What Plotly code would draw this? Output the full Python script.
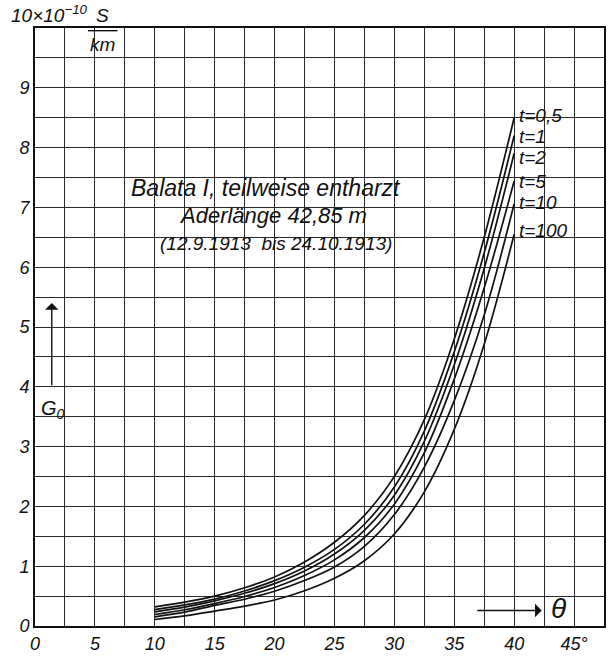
import plotly.graph_objects as go

# ---- data ----
theta = [10, 12.5, 15, 17.5, 20, 22.5, 25, 27.5, 30, 32.5, 35, 37.5, 40]
g_t05 = [0.32, 0.40, 0.50, 0.64, 0.82, 1.07, 1.40, 1.85, 2.50, 3.45, 4.80, 6.50, 8.50]
g_t1 = [0.275, 0.352, 0.45, 0.586, 0.759, 0.984, 1.281, 1.702, 2.325, 3.26, 4.584, 6.24, 8.20]
g_t2 = [0.237, 0.316, 0.42, 0.547, 0.709, 0.920, 1.204, 1.600, 2.188, 3.088, 4.368, 5.98, 7.905]
g_t5 = [0.192, 0.272, 0.375, 0.493, 0.644, 0.845, 1.106, 1.48, 2.038, 2.898, 4.128, 5.655, 7.44]
g_t10 = [0.154, 0.232, 0.345, 0.448, 0.582, 0.760, 0.987, 1.332, 1.863, 2.657, 3.768, 5.20, 7.06]
g_t100 = [0.109, 0.168, 0.25, 0.333, 0.435, 0.589, 0.798, 1.092, 1.538, 2.243, 3.288, 4.713, 6.55]

series_names = ["t=0,5", "t=1", "t=2", "t=5", "t=10", "t=100"]
series_vals = [g_t05, g_t1, g_t2, g_t5, g_t10, g_t100]
label_y = [8.54, 8.18, 7.83, 7.44, 7.08, 6.62]

x_tickvals = [0, 5, 10, 15, 20, 25, 30, 35, 40, 45]
x_ticktext = ["0", "5", "10", "15", "20", "25", "30", "35", "40", "45°"]
y_tickvals = [0, 1, 2, 3, 4, 5, 6, 7, 8, 9]
y_ticktext = ["0", "1", "2", "3", "4", "5", "6", "7", "8", "9"]

FONT = "Liberation Sans, DejaVu Sans"
INK = "#111111"
GRID = "#2a2a2a"

fig = go.Figure()
for name, vals in zip(series_names, series_vals):
    fig.add_trace(go.Scatter(x=theta, y=vals, mode="lines", name=name,
                             line=dict(color=INK, width=1.7, shape="spline", smoothing=1.0),
                             showlegend=False))

annotations = []
for name, ly in zip(series_names, label_y):
    annotations.append(dict(x=40.2, y=ly, xref="x", yref="y", text=name, showarrow=False,
                            xanchor="left", yanchor="middle",
                            font=dict(family=FONT, size=19, color=INK, style="italic")))

annotations += [
    dict(x=19.3, y=7.33, xref="x", yref="y", text="Balata I, teilweise entharzt", showarrow=False,
         font=dict(family=FONT, size=23, color=INK, style="italic")),
    dict(x=19.9, y=6.86, xref="x", yref="y", text="Aderlänge 42,85 m", showarrow=False,
         font=dict(family=FONT, size=22, color=INK, style="italic")),
    dict(x=20.1, y=6.40, xref="x", yref="y", text="(12.9.1913  bis 24.10.1913)", showarrow=False,
         font=dict(family=FONT, size=19, color=INK, style="italic")),
    # G0 arrow
    dict(x=1.4, y=5.4, ax=1.4, ay=4.0, xref="x", yref="y", axref="x", ayref="y",
         text="", showarrow=True, arrowhead=1, arrowsize=1.6, arrowwidth=1.4, arrowcolor=INK),
    dict(x=1.5, y=3.62, xref="x", yref="y", text="G<sub>0</sub>", showarrow=False,
         font=dict(family=FONT, size=20, color=INK, style="italic")),
    # theta arrow
    dict(x=42.3, y=0.26, ax=36.8, ay=0.26, xref="x", yref="y", axref="x", ayref="y",
         text="", showarrow=True, arrowhead=1, arrowsize=1.6, arrowwidth=1.4, arrowcolor=INK),
    dict(x=43.7, y=0.30, xref="x", yref="y", text="θ", showarrow=False,
         font=dict(family=FONT, size=28, color=INK, style="italic")),
    # unit label
    dict(x=-0.045, y=1.0, xref="paper", yref="paper", text="10×10<sup>−10</sup>", showarrow=False,
         xanchor="left", yanchor="bottom",
         font=dict(family=FONT, size=19, color=INK, style="italic")),
    dict(x=0.119, y=1.0, xref="paper", yref="paper", text="S", showarrow=False,
         xanchor="center", yanchor="bottom",
         font=dict(family=FONT, size=19, color=INK, style="italic")),
    dict(x=0.119, y=0.993, xref="paper", yref="paper", text="km", showarrow=False,
         xanchor="center", yanchor="top",
         font=dict(family=FONT, size=19, color=INK, style="italic")),
]

fig.update_layout(
    width=610, height=658,
    margin=dict(l=35, r=4, t=28, b=23),
    paper_bgcolor="white", plot_bgcolor="white",
    font=dict(family=FONT, color=INK, size=18, style="italic"),
    annotations=annotations,
    shapes=[dict(type="line", xref="paper", yref="paper", x0=0.093, x1=0.145, y0=0.9955, y1=0.9955,
                 line=dict(color=INK, width=1.4))],
)
fig.update_xaxes(range=[0, 47.5], tickvals=x_tickvals, ticktext=x_ticktext,
                 showgrid=True, gridcolor=GRID, gridwidth=1.1,
                 minor=dict(dtick=2.5, tick0=0, showgrid=True, gridcolor=GRID, gridwidth=1.1),
                 showline=True, linecolor=INK, linewidth=2, mirror=True, ticks="",
                 zeroline=False, tickfont=dict(size=18, style="italic"))
fig.update_yaxes(range=[0, 10], tickvals=y_tickvals, ticktext=y_ticktext,
                 showgrid=True, gridcolor=GRID, gridwidth=1.1,
                 minor=dict(dtick=0.5, tick0=0, showgrid=True, gridcolor=GRID, gridwidth=1.1),
                 showline=True, linecolor=INK, linewidth=2, mirror=True, ticks="",
                 zeroline=False, tickfont=dict(size=18, style="italic"))

fig.write_html("out.html")
